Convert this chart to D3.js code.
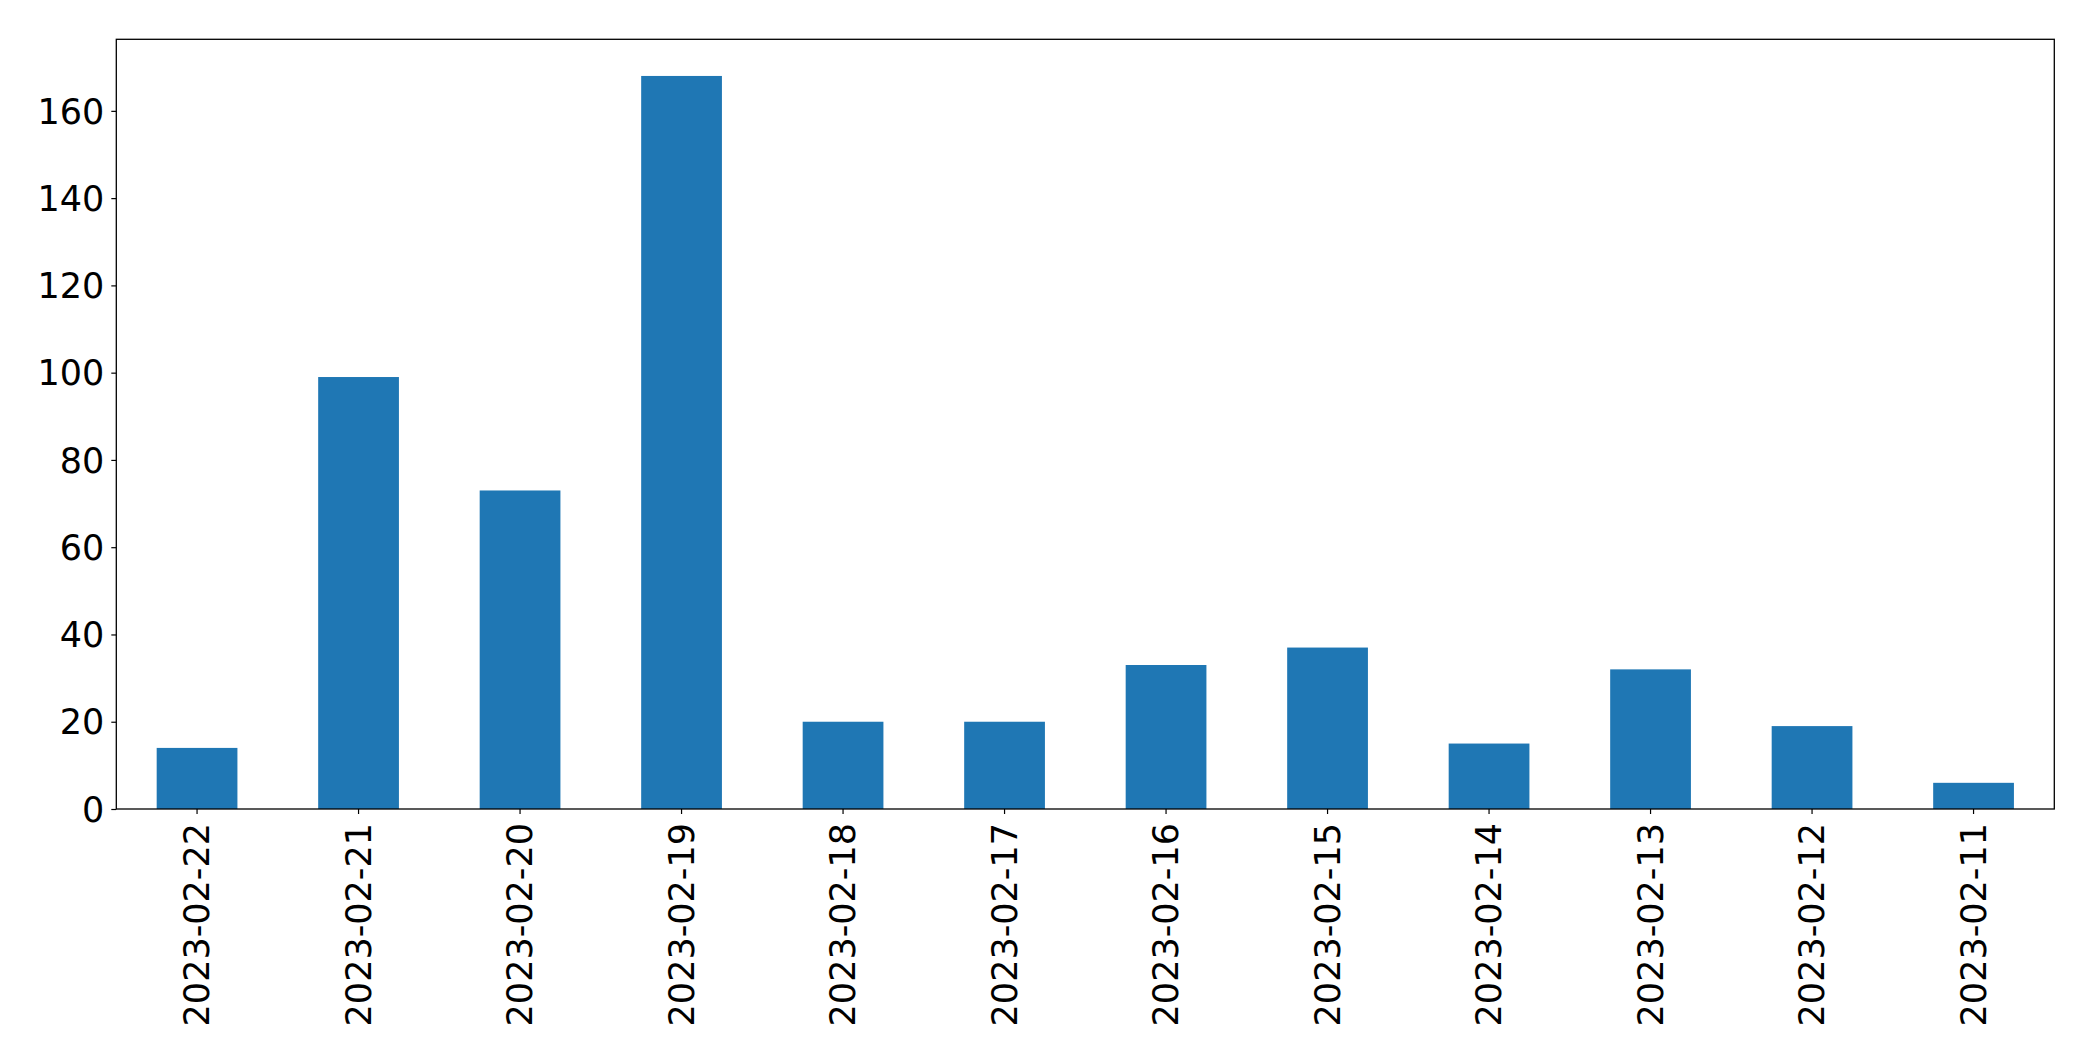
<!DOCTYPE html>
<html>
<head>
<meta charset="utf-8">
<script src="https://cdn.jsdelivr.net/npm/d3@7"></script>
<style>
  html, body { margin: 0; padding: 0; background: #fff; }
  svg { display: block; }
  text { font-family: "DejaVu Sans", sans-serif; }
</style>
</head>
<body>
<svg id="chart" width="2093" height="1061"></svg>
<script>
const categories = ["2023-02-22","2023-02-21","2023-02-20","2023-02-19","2023-02-18","2023-02-17","2023-02-16","2023-02-15","2023-02-14","2023-02-13","2023-02-12","2023-02-11"];
const values = [14, 99, 73, 168, 20, 20, 33, 37, 15, 32, 19, 6];
const yTicks = [0, 20, 40, 60, 80, 100, 120, 140, 160];

const W = 2093, H = 1061;
const m = { left: 116.3, right: 2093 - 2054.3, top: 39.3, bottom: H - 809 };
const iw = W - m.left - m.right, ih = H - m.top - m.bottom;
const fontSize = 35;

const svg = d3.select("#chart");
const g = svg.append("g").attr("transform", `translate(${m.left},${m.top})`);

const x = d3.scaleBand().domain(categories).range([0, iw]).paddingInner(0.5).paddingOuter(0.25);
const y = d3.scaleLinear().domain([0, d3.max(values) * 1.05]).range([ih, 0]);

g.selectAll("rect.bar").data(values).join("rect")
  .attr("class", "bar")
  .attr("x", (d, i) => x(categories[i]))
  .attr("width", x.bandwidth())
  .attr("y", d => y(d))
  .attr("height", d => ih - y(d))
  .attr("fill", "#1f77b4");

const yAxis = g.append("g")
  .call(d3.axisLeft(y).tickValues(yTicks).tickSize(5).tickPadding(7).tickFormat(d3.format("d")));
yAxis.select(".domain").remove();
yAxis.selectAll("line").attr("stroke", "#000").attr("stroke-width", 1.2);
yAxis.selectAll("text").attr("font-size", fontSize).attr("fill", "#000")
  .attr("font-family", "DejaVu Sans, sans-serif").attr("dy", "0.35em");

const xAxis = g.append("g").attr("transform", `translate(0,${ih})`)
  .call(d3.axisBottom(x).tickSize(5).tickPadding(0));
xAxis.select(".domain").remove();
xAxis.selectAll("line").attr("stroke", "#000").attr("stroke-width", 1.2);
xAxis.selectAll("text")
  .attr("font-size", fontSize).attr("fill", "#000")
  .attr("font-family", "DejaVu Sans, sans-serif")
  .attr("text-anchor", "end")
  .attr("transform", "translate(0,14) rotate(-90)")
  .attr("x", 0).attr("y", 0).attr("dy", "0.35em");

g.append("rect").attr("x", 0).attr("y", 0).attr("width", iw).attr("height", ih)
  .attr("fill", "none").attr("stroke", "#000").attr("stroke-width", 1.3);
</script>
</body>
</html>
